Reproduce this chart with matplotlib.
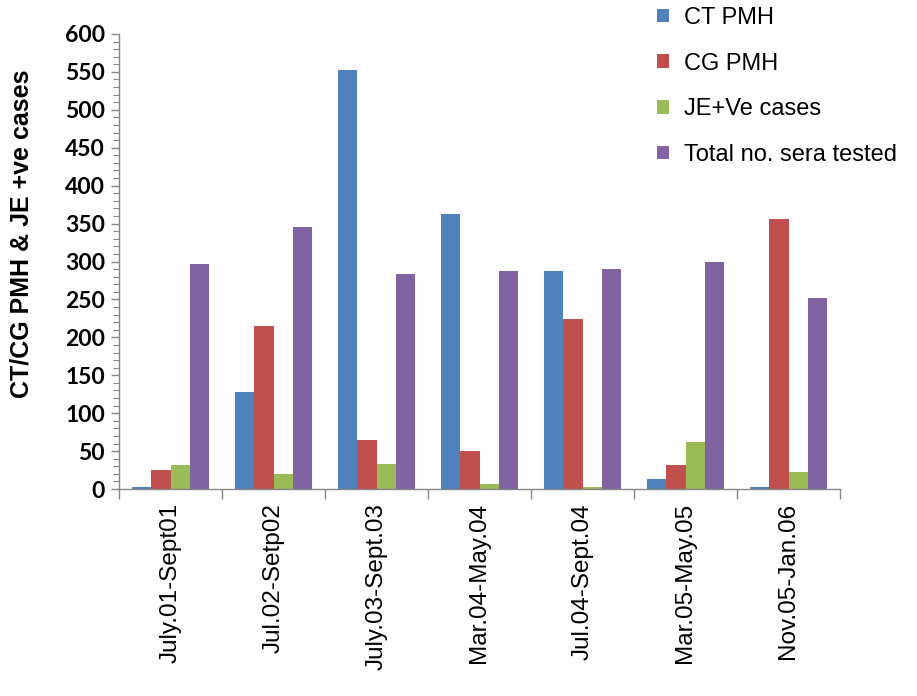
import matplotlib
matplotlib.use("Agg")
import matplotlib.pyplot as plt
import numpy as np
from matplotlib.ticker import MultipleLocator, FixedLocator

categories = ["July.01-Sept01", "Jul.02-Setp02", "July.03-Sept.03", "Mar.04-May.04",
              "Jul.04-Sept.04", "Mar.05-May.05", "Nov.05-Jan.06"]
series_names = ["CT PMH", "CG PMH", "JE+Ve cases", "Total no. sera tested"]
ct_pmh = [3, 128, 553, 363, 287, 13, 2]
cg_pmh = [25, 215, 65, 50, 224, 31, 356]
je_cases = [31, 20, 33, 7, 3, 62, 22]
total_sera = [297, 346, 284, 287, 290, 300, 252]
colors = ["#4F81BD", "#C0504D", "#9BBB59", "#8064A2"]

W, H = 917, 696
fig = plt.figure(figsize=(W / 100, H / 100), dpi=100)
ax = fig.add_axes([119 / W, 1 - 489 / H, (840 - 119) / W, (489 - 34) / H])

x = np.arange(len(categories))
bw = 0.1875
data = [ct_pmh, cg_pmh, je_cases, total_sera]
for i, (vals, name, c) in enumerate(zip(data, series_names, colors)):
    ax.bar(x + (i - 1.5) * bw, vals, width=bw, color=c, label=name, linewidth=0)

ax.set_xlim(-0.5, len(categories) - 0.5)
ax.set_ylim(0, 600)

gray = "#868686"
for s in ["top", "right"]:
    ax.spines[s].set_visible(False)
for s in ["left", "bottom"]:
    ax.spines[s].set_color(gray)
    ax.spines[s].set_linewidth(1.0)

ax.yaxis.set_major_locator(MultipleLocator(50))
ax.yaxis.set_minor_locator(MultipleLocator(10))
ax.tick_params(axis="y", which="major", length=6, color=gray, width=1, pad=4)
ax.tick_params(axis="y", which="minor", length=4, color=gray, width=0.8)
for lab in ax.get_yticklabels():
    lab.set_fontfamily(["Lato", "DejaVu Sans"])
    lab.set_fontweight("bold")
    lab.set_fontsize(16.5)

ax.set_xticks(x)
ax.set_xticklabels(categories, rotation=90, fontsize=17.5, family=["Liberation Sans", "DejaVu Sans"])
ax.xaxis.set_minor_locator(FixedLocator(np.arange(-0.5, len(categories), 1.0)))
ax.tick_params(axis="x", which="major", length=0, pad=10)
ax.tick_params(axis="x", which="minor", length=7, color=gray, width=1)

ax.set_ylabel("CT/CG PMH & JE +ve cases", fontsize=18, fontweight="bold",
              family=["Liberation Sans", "DejaVu Sans"])
ax.yaxis.set_label_coords(-(119 - 34) / (840 - 119), (489 - 234) / (489 - 34))

leg = ax.legend(loc="upper left", bbox_to_anchor=(657 / W, 1 - 7 / H),
                bbox_transform=fig.transFigure, frameon=False, borderpad=0,
                borderaxespad=0, handlelength=0.5, handleheight=0.5, handletextpad=0.65,
                labelspacing=1.0, prop={"family": ["Liberation Sans", "DejaVu Sans"], "size": 17})

fig.savefig("out.png", dpi=100)
